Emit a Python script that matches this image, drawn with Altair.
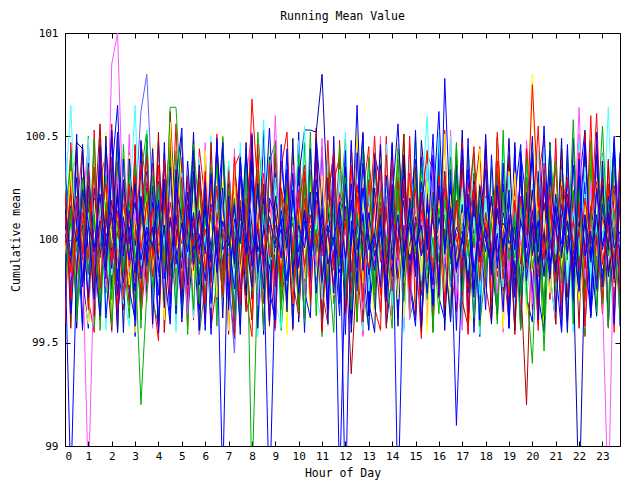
import altair as alt
import pandas as pd

HOURS = [h / 4 for h in range(96)]
X_TICKS = list(range(24))
Y_TICKS = [99, 99.5, 100, 100.5, 101]

S01 = [100.12, 99.84, 100.21, 99.93, 100.35, 99.78, 100.05, 100.27, 99.88, 100.14, 99.71, 100.09,
       100.31, 99.95, 100.18, 99.82, 100.04, 100.39, 99.90, 100.22, 99.76, 100.11, 99.97, 100.28,
       99.85, 100.16, 100.02, 99.73, 100.33, 99.94, 100.19, 99.87, 100.68, 100.24, 99.92, 100.07,
       99.81, 100.25, 100.10, 99.69, 100.14, 100.36, 99.96, 100.03, 99.79, 100.20, 100.42, 99.91,
       100.08, 99.74, 100.26, 100.01, 99.86, 100.17, 100.34, 99.83, 100.12, 99.95, 100.29, 99.77,
       100.06, 100.23, 99.89, 100.15, 99.72, 100.32, 99.98, 100.19, 99.85, 100.04, 100.27, 99.80,
       100.13, 99.93, 100.38, 99.87, 100.09, 99.75, 100.21, 100.02, 100.75, 100.18, 99.90, 100.24,
       99.82, 100.11, 100.30, 99.96, 100.05, 99.70, 100.16, 100.28, 99.88, 100.07, 99.79, 100.20]
S02 = [99.88, 100.15, 99.67, 100.04, 100.22, 99.79, 99.95, 100.31, 99.58, 100.09, 99.83, 100.18,
       99.92, 99.20, 99.74, 100.06, 100.27, 99.86, 100.64, 100.64, 100.12, 99.81, 100.03, 99.69,
       100.21, 99.90, 100.37, 99.77, 100.08, 99.63, 100.14, 100.29, 98.80, 99.85, 100.17, 99.96,
       100.02, 99.72, 100.25, 99.89, 100.11, 99.60, 100.33, 99.94, 100.07, 99.78, 100.19, 99.87,
       100.28, 99.66, 100.05, 99.91, 100.40, 99.76, 100.13, 99.84, 99.98, 100.24, 99.70, 100.10,
       99.93, 100.35, 99.81, 100.01, 99.64, 100.20, 99.88, 100.46, 99.75, 100.15, 99.97, 100.26,
       99.82, 100.08, 99.59, 100.23, 99.90, 100.12, 99.73, 100.30, 99.86, 100.04, 99.68, 100.17,
       100.38, 99.79, 100.09, 99.95, 100.27, 99.71, 100.14, 99.83, 100.21, 99.92, 100.06, 99.62]
S03 = [99.93, 98.80, 99.86, 100.24, 100.08, 99.71, 100.36, 99.97, 100.13, 99.80, 100.29, 100.02,
       99.75, 100.18, 99.91, 100.44, 99.84, 100.07, 99.62, 100.25, 100.10, 99.78, 100.33, 99.95,
       100.16, 99.69, 100.04, 98.80, 100.21, 99.88, 100.39, 100.01, 99.77, 100.27, 99.92, 98.70,
       99.83, 100.14, 99.96, 100.32, 99.74, 100.09, 99.87, 100.23, 100.05, 99.66, 100.30, 98.80,
       99.90, 100.19, 99.79, 100.37, 100.00, 99.85, 100.12, 99.70, 100.26, 98.70, 99.94, 100.15,
       99.82, 100.28, 99.98, 100.41, 99.73, 100.78, 100.06, 99.10, 99.89, 100.22, 99.76, 100.11,
       100.34, 99.87, 100.03, 99.65, 100.20, 99.95, 100.31, 99.80, 100.08, 99.72, 100.25, 100.01,
       99.84, 100.17, 99.93, 100.36, 99.78, 100.10, 99.67, 100.24, 99.97, 100.13, 99.81, 100.29]
S04 = [100.05, 99.82, 100.19, 99.94, 98.80, 99.88, 100.12, 99.77, 100.85, 101.00, 100.08, 99.85,
       100.23, 99.96, 99.70, 100.14, 100.02, 99.81, 100.30, 99.90, 100.07, 99.64, 100.18, 99.99,
       99.86, 100.27, 99.75, 100.10, 99.93, 100.35, 99.80, 100.04, 100.21, 99.68, 100.15, 99.91,
       100.60, 99.84, 100.11, 99.97, 100.26, 99.73, 100.09, 99.89, 100.32, 99.78, 100.01, 100.17,
       99.83, 100.24, 99.95, 99.66, 100.13, 99.92, 100.29, 99.79, 100.06, 99.87, 100.20, 99.61,
       100.16, 99.94, 100.37, 99.76, 100.03, 99.88, 100.22, 99.70, 100.12, 99.98, 99.82, 100.27,
       99.91, 100.09, 99.74, 100.19, 99.85, 100.33, 99.97, 100.05, 99.69, 100.14, 99.90, 100.25,
       100.02, 99.78, 100.18, 99.93, 100.64, 99.81, 100.10, 99.96, 99.72, 98.70, 100.08, 99.87]
S05 = [100.20, 100.65, 99.90, 100.08, 99.76, 100.17, 99.95, 100.28, 99.83, 100.04, 99.69, 100.13,
       100.65, 99.87, 100.11, 99.79, 100.24, 99.97, 100.06, 99.72, 100.32, 99.91, 100.15, 99.84,
       100.02, 99.67, 100.21, 99.93, 100.38, 99.81, 100.09, 99.96, 100.26, 99.74, 100.12, 99.88,
       100.30, 99.99, 99.78, 100.16, 99.92, 100.55, 99.86, 100.07, 99.71, 100.19, 99.95, 100.34,
       99.82, 100.10, 99.98, 100.23, 99.75, 100.05, 99.89, 100.29, 99.68, 100.14, 99.94, 100.03,
       100.18, 99.80, 100.36, 99.91, 100.52, 99.77, 100.08, 99.97, 100.25, 99.85, 100.11, 99.73,
       100.20, 99.96, 100.05, 99.83, 100.31, 99.90, 100.15, 99.70, 100.09, 100.43, 99.87, 100.02,
       99.93, 100.24, 99.79, 100.13, 99.98, 100.35, 99.84, 100.07, 99.75, 100.19, 99.91, 100.28]
S06 = [99.95, 100.33, 99.81, 100.07, 99.92, 100.19, 99.74, 100.26, 100.01, 99.86, 100.14, 99.78,
       100.09, 99.97, 100.22, 99.85, 100.04, 99.63, 100.30, 99.93, 100.12, 99.80, 100.18, 99.99,
       99.87, 100.25, 99.72, 100.11, 99.96, 100.36, 99.84, 100.05, 99.91, 100.20, 99.76, 100.13,
       100.00, 99.88, 100.27, 99.69, 100.15, 99.94, 100.08, 99.82, 100.31, 99.98, 99.73, 100.17,
       100.06, 99.90, 100.23, 99.79, 100.10, 99.95, 100.34, 99.86, 100.02, 99.71, 100.19, 99.93,
       100.12, 99.83, 100.28, 99.97, 100.04, 99.75, 100.21, 99.89, 100.13, 99.99, 99.78, 100.25,
       99.91, 100.16, 99.85, 100.07, 99.96, 100.32, 99.80, 100.01, 100.80, 99.92, 100.14, 99.74,
       100.23, 99.88, 100.09, 99.97, 99.70, 100.18, 99.94, 100.29, 99.86, 100.05, 99.77, 100.11]
S07 = [99.80, 100.14, 99.97, 100.25, 99.71, 100.08, 100.56, 99.89, 100.19, 99.93, 100.03, 99.76,
       100.28, 99.85, 100.10, 99.95, 100.22, 99.82, 100.62, 100.06, 99.74, 100.17, 99.91, 100.34,
       100.02, 99.79, 100.13, 99.88, 100.24, 99.96, 99.68, 100.11, 100.44, 99.84, 100.07, 99.92,
       100.20, 99.77, 100.05, 99.90, 100.31, 99.83, 100.12, 99.98, 99.72, 100.18, 99.86, 100.09,
       99.94, 99.35, 99.87, 100.21, 100.00, 99.78, 100.15, 99.91, 100.27, 99.81, 100.06, 99.97,
       100.16, 99.73, 100.10, 99.89, 100.23, 99.95, 100.04, 99.84, 100.35, 99.92, 99.76, 100.13,
       99.99, 100.20, 99.82, 100.08, 99.93, 100.26, 99.79, 99.20, 100.11, 99.87, 100.18, 99.96,
       100.05, 99.83, 100.22, 99.90, 100.09, 99.75, 100.14, 99.98, 100.30, 99.85, 100.02, 99.93]
S08 = [100.09, 99.88, 100.47, 100.44, 99.92, 100.16, 99.79, 100.03, 99.95, 100.24, 99.83, 100.11,
       99.97, 100.20, 99.74, 100.06, 99.90, 100.29, 99.85, 100.02, 100.15, 99.78, 100.08, 99.93,
       100.18, 99.96, 100.05, 99.81, 100.27, 99.89, 100.12, 99.73, 100.38, 99.94, 100.07, 99.86,
       100.21, 99.99, 100.10, 99.84, 100.30, 100.53, 100.53, 100.52, 100.80, 100.14, 99.91, 100.06,
       99.87, 100.19, 99.95, 100.04, 99.76, 100.25, 99.92, 100.13, 99.82, 100.01, 100.36, 99.90,
       100.08, 99.97, 100.22, 99.80, 100.11, 99.94, 100.03, 99.86, 100.17, 99.77, 100.28, 99.99,
       100.06, 99.89, 100.14, 99.95, 100.49, 99.83, 100.10, 99.96, 100.24, 99.88, 100.00, 99.79,
       100.19, 99.93, 100.07, 99.85, 98.70, 99.90, 100.16, 99.97, 100.26, 99.82, 100.05, 99.94]
S09 = [99.91, 100.17, 99.85, 100.04, 100.22, 99.76, 100.10, 99.94, 100.31, 99.87, 100.06, 99.98,
       100.14, 100.62, 100.80, 100.19, 99.82, 100.07, 99.93, 100.25, 99.80, 100.12, 99.96, 100.03,
       99.89, 100.18, 99.97, 100.08, 99.84, 99.45, 100.11, 99.92, 100.26, 99.78, 100.05, 99.95,
       100.15, 99.86, 100.23, 99.99, 100.02, 99.81, 100.19, 99.90, 100.09, 99.74, 100.28, 99.96,
       100.04, 99.88, 100.13, 99.97, 100.20, 99.83, 100.07, 99.93, 100.16, 99.79, 100.01, 100.24,
       99.90, 100.10, 99.85, 100.30, 99.95, 100.05, 99.77, 100.18, 99.92, 100.12, 99.86, 100.03,
       100.21, 99.94, 100.08, 99.82, 100.14, 99.99, 100.27, 99.87, 100.04, 99.96, 100.17, 99.80,
       100.09, 99.91, 100.22, 99.97, 100.02, 99.84, 100.13, 99.89, 100.25, 99.93, 100.06, 99.78]
S10 = [100.24, 99.71, 100.06, 99.90, 100.19, 99.82, 100.33, 99.95, 100.11, 99.66, 100.28, 99.87,
       100.02, 100.37, 99.79, 100.15, 99.93, 100.21, 99.74, 100.09, 99.98, 100.30, 99.85, 100.13,
       99.69, 100.26, 99.92, 100.05, 99.80, 100.40, 99.88, 100.17, 99.76, 100.08, 100.32, 99.91,
       100.12, 99.83, 100.27, 99.97, 99.72, 100.20, 99.89, 100.35, 99.94, 100.03, 99.78, 100.22,
       100.14, 99.86, 100.01, 99.70, 100.29, 99.96, 100.18, 99.81, 100.38, 99.90, 100.07, 99.75,
       100.25, 99.93, 100.10, 99.84, 100.31, 99.68, 100.16, 99.99, 100.04, 99.77, 100.23, 99.91,
       100.36, 99.85, 100.12, 99.97, 99.73, 100.19, 99.88, 100.27, 100.02, 99.82, 100.34, 99.95,
       100.08, 99.69, 100.21, 99.93, 100.15, 99.86, 100.60, 99.80, 100.11, 99.98, 100.26, 99.74]
S11 = [99.78, 100.09, 99.94, 100.26, 99.83, 100.12, 99.70, 100.18, 99.96, 100.04, 99.87, 100.32,
       99.91, 100.07, 100.23, 99.76, 100.14, 99.89, 100.01, 99.68, 100.20, 99.95, 100.29, 99.82,
       100.10, 99.93, 100.03, 99.72, 100.25, 99.86, 100.16, 99.98, 99.77, 100.34, 99.90, 100.06,
       99.84, 100.21, 99.95, 100.11, 99.65, 100.28, 99.92, 100.05, 99.81, 100.17, 99.97, 100.09,
       100.30, 99.79, 100.13, 99.88, 100.02, 99.74, 100.24, 99.93, 100.08, 100.39, 99.85, 100.15,
       99.96, 100.06, 99.71, 100.22, 99.89, 100.12, 99.80, 100.27, 99.94, 100.00, 99.62, 100.19,
       99.87, 100.11, 100.33, 99.83, 100.04, 99.91, 100.20, 99.77, 99.40, 100.14, 99.97, 100.08,
       99.75, 100.23, 99.90, 100.58, 99.84, 100.12, 99.95, 100.03, 99.69, 100.17, 99.88, 100.30]
S12 = [100.15, 99.92, 100.30, 99.79, 100.07, 99.96, 100.22, 99.85, 100.53, 99.73, 100.11, 99.90,
       100.27, 99.81, 100.04, 99.97, 100.19, 99.67, 100.35, 99.88, 100.08, 99.94, 100.13, 99.78,
       100.21, 99.89, 100.47, 99.95, 100.02, 99.76, 100.16, 99.93, 100.29, 99.84, 100.05, 100.54,
       99.98, 100.10, 99.71, 100.24, 99.87, 100.14, 99.92, 100.45, 99.80, 100.06, 99.99, 100.18,
       98.70, 100.09, 99.86, 100.25, 99.95, 100.03, 99.77, 100.31, 99.90, 100.12, 99.82, 100.20,
       99.97, 100.07, 99.74, 100.16, 100.62, 99.93, 100.28, 99.85, 100.01, 99.79, 100.19, 99.91,
       100.05, 99.83, 100.26, 99.96, 100.10, 99.72, 100.37, 99.89, 100.14, 99.94, 100.55, 99.86,
       100.22, 99.98, 100.09, 99.80, 100.31, 99.92, 100.04, 99.76, 100.17, 99.95, 100.50, 99.87]
S13 = [99.86, 100.27, 99.95, 100.13, 99.68, 100.20, 99.91, 100.06, 100.56, 99.82, 100.17, 99.98,
       100.09, 99.75, 100.24, 99.90, 100.36, 99.84, 100.03, 99.97, 100.18, 99.79, 100.11, 99.93,
       100.30, 99.87, 100.06, 99.72, 100.22, 99.94, 100.12, 99.83, 100.01, 100.41, 99.89, 100.15,
       99.77, 100.25, 99.96, 100.08, 99.86, 100.33, 99.70, 100.19, 99.92, 100.48, 99.85, 100.04,
       100.16, 99.93, 100.26, 99.80, 100.11, 99.97, 99.65, 100.21, 99.88, 100.07, 99.95, 100.32,
       99.84, 100.14, 99.99, 100.23, 99.78, 100.05, 99.90, 100.17, 99.73, 100.28, 99.96, 100.10,
       99.81, 100.20, 99.94, 100.06, 99.87, 100.30, 99.75, 100.12, 99.92, 100.25, 99.83, 100.09,
       100.35, 99.90, 100.02, 99.78, 100.18, 99.96, 100.07, 100.61, 99.85, 100.13, 99.71, 100.22]
S14 = [100.03, 99.89, 100.18, 99.77, 100.26, 99.94, 100.09, 99.81, 100.32, 100.65, 99.92, 100.14,
       99.84, 100.21, 99.97, 100.06, 99.73, 100.29, 99.90, 100.12, 99.86, 100.38, 99.95, 100.02,
       99.80, 100.17, 99.93, 100.25, 99.69, 100.10, 99.98, 100.44, 99.87, 100.05, 99.76, 100.20,
       100.11, 99.91, 100.34, 99.83, 100.07, 99.96, 100.23, 99.74, 100.15, 99.88, 100.01, 99.63,
       100.27, 99.97, 100.65, 99.85, 100.13, 99.92, 100.04, 99.79, 100.19, 100.56, 99.94, 100.08,
       99.87, 100.22, 99.95, 100.11, 99.80, 100.33, 99.91, 100.06, 99.98, 100.17, 99.72, 100.26,
       100.00, 99.86, 100.15, 99.93, 100.24, 99.78, 100.09, 99.97, 100.42, 99.89, 100.03, 99.81,
       100.16, 99.94, 100.28, 99.84, 100.05, 100.47, 99.91, 100.12, 99.77, 100.21, 99.96, 100.04]
S15 = [100.17, 99.85, 100.02, 99.96, 100.28, 99.74, 100.11, 99.90, 100.06, 99.80, 100.23, 99.93,
       99.71, 100.14, 99.88, 100.31, 99.97, 100.05, 99.82, 100.19, 99.91, 100.08, 99.66, 100.26,
       99.95, 100.12, 99.79, 100.03, 99.92, 100.20, 99.86, 100.35, 99.98, 99.73, 100.16, 99.89,
       100.07, 99.94, 100.29, 99.78, 100.10, 99.87, 100.04, 99.99, 100.25, 99.82, 100.13, 99.95,
       99.76, 100.22, 99.91, 100.09, 99.84, 100.36, 99.96, 100.01, 99.69, 100.18, 99.88, 100.11,
       100.27, 99.93, 100.05, 99.81, 100.15, 99.97, 100.40, 99.85, 100.08, 99.92, 100.21, 99.78,
       100.13, 99.95, 99.67, 100.19, 99.89, 100.04, 99.83, 100.30, 99.94, 100.10, 99.46, 100.16,
       99.90, 100.07, 99.98, 100.24, 99.79, 100.11, 99.87, 100.02, 100.55, 99.93, 100.14, 99.82]
S16 = [99.93, 100.10, 99.79, 100.24, 99.88, 100.05, 99.97, 100.16, 99.83, 100.31, 99.90, 100.02,
       100.12, 99.86, 100.20, 99.95, 100.07, 99.74, 100.27, 99.91, 100.14, 99.84, 100.03, 99.98,
       100.21, 99.89, 100.09, 99.77, 100.18, 99.94, 100.04, 100.29, 99.85, 100.13, 99.96, 100.06,
       99.81, 100.19, 99.92, 100.36, 99.87, 100.01, 99.75, 100.15, 99.97, 100.08, 99.89, 100.23,
       100.03, 99.94, 100.17, 99.82, 100.26, 99.90, 100.06, 99.98, 100.11, 99.78, 100.20, 99.93,
       100.09, 99.85, 100.22, 99.96, 100.04, 99.72, 100.14, 99.88, 100.30, 99.91, 100.07, 99.97,
       99.86, 100.16, 99.93, 100.05, 99.80, 100.25, 99.95, 100.12, 99.84, 100.19, 99.90, 100.02,
       100.13, 99.76, 100.21, 99.97, 100.08, 99.87, 100.27, 99.94, 100.04, 99.83, 100.15, 99.99]
S17 = [100.04, 99.87, 100.21, 99.95, 100.13, 99.78, 100.29, 99.91, 100.08, 99.97, 100.18, 99.84,
       99.96, 100.25, 99.82, 100.10, 99.93, 100.02, 100.33, 99.86, 100.06, 99.75, 100.19, 99.90,
       100.11, 99.98, 99.80, 100.23, 99.92, 100.07, 99.85, 100.16, 99.99, 100.03, 100.58, 99.89,
       99.94, 100.12, 99.79, 100.26, 99.96, 100.09, 99.88, 100.20, 99.83, 100.05, 100.30, 99.92,
       100.14, 99.87, 100.01, 99.97, 100.22, 99.81, 100.10, 99.93, 100.28, 99.86, 100.04, 99.98,
       99.90, 100.17, 100.60, 99.84, 100.12, 99.95, 100.07, 99.79, 100.24, 99.91, 100.03, 99.96,
       100.20, 99.88, 100.09, 99.77, 100.15, 99.94, 100.02, 99.85, 100.27, 99.97, 100.11, 99.89,
       99.95, 100.18, 99.83, 100.06, 99.92, 100.22, 99.80, 100.10, 99.98, 100.64, 99.86, 100.13]
S18 = [99.97, 100.22, 99.83, 100.09, 99.91, 100.35, 99.76, 100.14, 99.88, 100.03, 99.95, 100.27,
       99.80, 100.11, 100.40, 99.92, 100.06, 99.85, 100.18, 99.97, 100.30, 99.73, 100.12, 99.89,
       100.05, 99.94, 100.26, 99.82, 100.15, 99.99, 99.70, 100.20, 99.90, 100.08, 99.86, 100.37,
       100.02, 99.78, 100.17, 99.93, 100.24, 99.87, 100.07, 99.96, 100.13, 99.79, 100.33, 99.91,
       100.10, 99.84, 100.21, 99.95, 100.04, 100.50, 99.89, 100.16, 99.75, 100.28, 99.93, 100.06,
       99.87, 100.19, 99.98, 100.10, 99.77, 100.25, 99.92, 100.03, 99.83, 100.14, 100.45, 99.90,
       100.08, 99.95, 100.22, 99.81, 100.12, 99.97, 100.31, 99.86, 100.05, 100.55, 99.91, 100.17,
       99.79, 100.26, 99.94, 100.09, 99.85, 100.20, 99.98, 100.02, 99.72, 100.14, 99.89, 100.35]
S19 = [99.85, 100.16, 99.99, 100.07, 99.72, 100.25, 99.93, 100.12, 99.86, 100.20, 99.79, 100.04,
       100.18, 99.90, 100.06, 99.95, 100.28, 99.81, 100.10, 99.96, 99.69, 100.23, 99.88, 100.14,
       99.93, 100.32, 99.84, 100.09, 99.97, 100.17, 99.76, 100.03, 99.91, 100.24, 99.87, 100.11,
       99.96, 100.05, 99.80, 100.21, 99.94, 100.14, 99.85, 100.29, 99.98, 100.07, 99.74, 100.16,
       99.90, 100.27, 99.95, 100.12, 99.83, 100.02, 100.36, 99.88, 100.09, 99.97, 100.19, 99.81,
       100.11, 99.92, 100.04, 99.78, 100.26, 99.96, 100.15, 99.87, 100.00, 100.34, 99.84, 100.10,
       99.94, 100.21, 99.86, 100.13, 99.98, 100.06, 99.79, 100.23, 99.93, 100.09, 99.82, 100.30,
       100.05, 99.91, 100.18, 99.97, 99.75, 100.12, 99.89, 100.25, 99.95, 100.08, 99.83, 100.16]
S20 = [100.10, 99.94, 100.25, 99.86, 100.05, 99.98, 100.19, 99.80, 100.13, 99.91, 100.30, 99.88,
       100.02, 99.77, 100.16, 99.95, 100.08, 99.84, 100.57, 99.92, 100.11, 99.97, 99.82, 100.20,
       99.90, 100.06, 99.99, 100.27, 99.85, 100.12, 99.93, 100.04, 99.78, 100.18, 99.96, 100.09,
       100.22, 99.87, 100.03, 99.95, 100.14, 99.81, 100.26, 99.92, 100.07, 99.98, 100.17, 99.86,
       99.94, 100.11, 99.83, 100.20, 99.97, 100.06, 99.89, 100.15, 99.93, 100.02, 99.79, 100.24,
       100.08, 99.96, 100.13, 99.85, 100.19, 99.91, 100.04, 99.98, 100.23, 99.88, 100.10, 99.82,
       99.97, 100.14, 99.90, 100.03, 99.86, 100.21, 99.95, 100.07, 99.84, 100.16, 99.93, 100.28,
       100.01, 99.89, 100.12, 99.96, 100.06, 99.80, 100.18, 99.92, 100.09, 99.97, 100.25, 99.87]

T01 = [100.38, 99.62, 100.12, 100.45, 99.71, 99.55, 100.29, 100.41, 99.83, 100.52, 99.66, 100.06,
       99.58, 100.47, 100.25, 99.74, 99.51, 100.39, 99.93, 100.56, 99.69, 100.31, 99.61, 100.44,
       100.18, 99.57, 99.80, 100.49, 99.64, 100.35, 100.42, 99.72, 99.53, 100.30, 100.05, 99.60,
       100.48, 99.79, 100.23, 99.56, 100.43, 100.10, 99.68, 100.51, 99.75, 99.59, 100.28, 100.40,
       99.65, 100.46, 99.88, 99.54, 100.37, 100.15, 99.73, 100.50, 99.63, 100.26, 99.58, 100.44,
       99.97, 99.52, 100.41, 100.34, 99.76, 100.53, 99.62, 99.90, 100.38, 99.55, 100.20, 100.45,
       99.78, 99.60, 100.47, 100.02, 99.71, 100.33, 99.57, 100.42, 99.66, 100.30, 100.49, 99.84,
       99.59, 100.36, 100.11, 99.69, 100.27, 99.53, 100.43, 99.95, 99.74, 100.39, 99.61, 100.32]
T02 = [99.61, 100.27, 100.44, 99.82, 99.57, 100.36, 99.70, 100.08, 100.50, 99.64, 99.91, 100.42,
       99.53, 100.19, 100.33, 99.68, 100.47, 99.85, 99.59, 100.29, 100.54, 99.73, 100.02, 99.55,
       100.40, 99.66, 100.14, 100.46, 99.78, 99.52, 100.31, 99.96, 100.43, 99.62, 100.25, 99.87,
       99.56, 100.38, 100.09, 99.71, 100.52, 99.60, 100.21, 99.80, 100.45, 99.67, 99.99, 100.35,
       99.54, 100.48, 99.75, 100.13, 99.63, 100.41, 100.28, 99.58, 99.84, 100.46, 99.69, 100.17,
       100.39, 99.57, 100.04, 100.51, 99.72, 99.61, 100.34, 99.89, 100.44, 99.65, 100.23, 99.53,
       100.37, 99.81, 100.49, 99.68, 100.07, 99.56, 100.42, 100.18, 99.74, 100.30, 99.60, 100.47,
       99.86, 99.55, 100.40, 99.70, 100.26, 100.53, 99.63, 99.94, 100.35, 99.58, 100.45, 99.77]
T03 = [100.08, 100.41, 99.63, 99.88, 100.50, 99.57, 100.22, 99.74, 100.37, 99.55, 100.46, 99.92,
       99.66, 100.31, 100.53, 99.70, 99.59, 100.24, 99.83, 100.43, 99.62, 100.10, 100.48, 99.54,
       99.78, 100.35, 99.67, 100.45, 100.03, 99.58, 100.39, 99.86, 99.61, 100.52, 100.16, 99.72,
       100.44, 99.56, 99.95, 100.30, 99.64, 100.47, 99.81, 100.20, 99.53, 100.38, 99.69, 100.11,
       100.49, 99.60, 100.27, 99.76, 99.57, 100.42, 100.06, 99.65, 100.34, 99.90, 100.51, 99.62,
       99.73, 100.40, 100.19, 99.55, 100.46, 99.84, 99.68, 100.32, 99.59, 100.44, 100.01, 99.71,
       100.36, 99.63, 100.50, 99.79, 100.13, 99.56, 100.43, 99.67, 100.25, 99.98, 99.58, 100.47,
       99.75, 100.29, 99.61, 100.41, 100.09, 99.54, 100.38, 99.82, 100.21, 99.66, 100.48, 99.72]
T04 = [99.72, 100.35, 99.58, 100.18, 100.46, 99.65, 99.93, 100.40, 99.55, 100.28, 99.81, 100.51,
       99.63, 100.05, 100.43, 99.57, 100.33, 99.76, 100.48, 99.60, 100.15, 99.88, 100.39, 99.54,
       100.47, 99.69, 100.24, 99.97, 99.59, 100.44, 99.74, 100.30, 100.52, 99.62, 99.85, 100.37,
       99.56, 100.21, 99.70, 100.45, 100.07, 99.61, 100.34, 99.80, 100.49, 99.58, 100.12, 99.94,
       100.42, 99.66, 100.27, 99.53, 100.38, 99.87, 100.50, 99.64, 99.99, 100.31, 99.57, 100.46,
       99.73, 100.22, 99.60, 100.41, 100.04, 99.68, 100.53, 99.82, 99.56, 100.36, 100.17, 99.63,
       100.44, 99.77, 100.29, 99.55, 100.40, 99.91, 99.67, 100.48, 100.10, 99.59, 100.33, 99.71,
       100.45, 99.62, 100.19, 99.86, 100.51, 99.57, 100.26, 99.75, 100.42, 99.64, 100.08, 100.37]
T05 = [100.44, 99.60, 100.07, 99.83, 100.49, 99.67, 100.32, 99.56, 100.21, 100.42, 99.74, 99.58,
       100.36, 99.89, 100.53, 99.63, 100.16, 99.71, 100.45, 99.55, 100.28, 99.96, 99.62, 100.40,
       99.77, 100.50, 99.59, 100.24, 100.04, 99.66, 100.47, 99.80, 100.33, 99.53, 100.11, 100.43,
       99.70, 99.57, 100.38, 99.92, 100.48, 99.64, 100.26, 99.75, 99.58, 100.41, 100.13, 99.68,
       100.52, 99.81, 100.19, 99.56, 100.35, 99.98, 99.61, 100.46, 99.73, 100.30, 99.55, 100.39,
       100.09, 99.65, 100.44, 99.86, 100.23, 99.59, 100.50, 99.69, 100.14, 99.78, 100.42, 99.54,
       100.31, 99.94, 99.63, 100.47, 99.72, 100.20, 99.57, 100.37, 100.02, 99.67, 100.45, 99.84,
       99.60, 100.34, 100.17, 99.55, 100.48, 99.76, 100.25, 99.62, 100.40, 99.90, 99.58, 100.43]
T06 = [99.66, 100.22, 100.48, 99.75, 99.59, 100.37, 99.94, 100.52, 99.62, 100.14, 99.80, 100.41,
       99.55, 100.29, 99.70, 100.46, 100.06, 99.61, 100.35, 99.86, 100.50, 99.57, 100.18, 99.73,
       100.43, 99.64, 100.01, 100.39, 99.56, 100.26, 99.82, 100.47, 99.68, 100.12, 99.59, 100.44,
       99.91, 100.32, 99.54, 100.49, 99.77, 100.20, 99.63, 100.38, 100.09, 99.58, 100.45, 99.71,
       100.27, 99.60, 100.53, 99.85, 100.16, 99.56, 100.40, 99.74, 99.97, 100.47, 99.62, 100.31,
       99.69, 100.42, 99.55, 100.23, 99.88, 100.51, 99.61, 100.05, 100.36, 99.66, 99.58, 100.44,
       100.15, 99.72, 100.48, 99.57, 100.33, 99.83, 100.21, 99.64, 100.46, 99.93, 99.59, 100.39,
       99.76, 100.28, 99.54, 100.43, 100.03, 99.67, 100.50, 99.81, 100.19, 99.60, 100.35, 99.87]
T07 = [100.31, 99.57, 100.43, 99.79, 100.16, 99.63, 100.49, 99.90, 99.56, 100.38, 100.05, 99.68,
       100.46, 99.61, 100.25, 99.84, 100.52, 99.55, 100.11, 99.74, 100.40, 99.66, 100.33, 99.97,
       99.59, 100.47, 99.71, 100.21, 99.54, 100.36, 100.08, 99.65, 100.50, 99.82, 100.27, 99.58,
       100.42, 99.69, 99.93, 100.45, 99.62, 100.17, 99.77, 100.54, 99.56, 100.30, 99.87, 100.39,
       99.64, 100.02, 100.48, 99.60, 100.24, 99.73, 100.43, 99.57, 100.13, 99.95, 100.51, 99.67,
       100.35, 99.55, 100.20, 99.81, 100.46, 99.63, 100.07, 100.40, 99.70, 99.58, 100.32, 99.89,
       100.49, 99.61, 100.26, 99.75, 100.41, 99.54, 100.15, 99.85, 100.47, 99.66, 100.00, 100.37,
       99.59, 100.44, 99.72, 100.23, 99.57, 100.52, 99.92, 100.10, 99.64, 100.38, 99.78, 100.29]
T08 = [99.59, 100.47, 99.86, 100.20, 99.66, 100.53, 99.73, 100.09, 100.40, 99.57, 100.28, 99.82,
       100.45, 99.62, 99.95, 100.37, 99.55, 100.14, 100.49, 99.70, 100.24, 99.58, 100.42, 99.88,
       100.33, 99.64, 100.51, 99.76, 100.04, 99.53, 100.39, 99.91, 99.61, 100.46, 99.69, 100.18,
       99.57, 100.35, 100.52, 99.80, 99.63, 100.27, 99.96, 100.44, 99.55, 100.11, 99.72, 100.48,
       99.85, 100.36, 99.60, 100.22, 100.45, 99.67, 99.56, 100.41, 99.93, 100.30, 99.74, 100.50,
       99.62, 100.15, 100.43, 99.57, 100.34, 99.83, 100.06, 99.65, 100.47, 99.54, 100.25, 99.79,
       100.39, 99.68, 100.52, 99.90, 99.59, 100.31, 99.75, 100.44, 100.12, 99.56, 100.37, 99.71,
       100.49, 99.63, 100.21, 99.87, 100.42, 99.58, 100.03, 100.46, 99.66, 100.27, 99.55, 100.40]
T09 = [100.22, 99.73, 100.51, 99.58, 100.34, 99.92, 99.63, 100.45, 100.10, 99.55, 100.39, 99.76,
       99.61, 100.48, 99.85, 100.26, 99.57, 100.42, 99.69, 100.13, 100.50, 99.64, 99.98, 100.36,
       99.56, 100.29, 99.81, 100.47, 99.66, 100.19, 99.54, 100.41, 100.06, 99.71, 100.53, 99.60,
       100.32, 99.88, 100.44, 99.57, 100.23, 99.75, 99.62, 100.49, 100.15, 99.67, 100.38, 99.84,
       100.43, 99.59, 100.11, 100.52, 99.70, 99.55, 100.35, 99.95, 100.46, 99.63, 100.25, 99.78,
       99.58, 100.40, 100.00, 99.68, 100.48, 99.82, 100.30, 99.56, 100.44, 99.74, 100.17, 99.61,
       100.51, 99.89, 99.64, 100.37, 99.57, 100.21, 100.46, 99.72, 99.60, 100.33, 99.97, 100.43,
       99.65, 100.12, 99.55, 100.49, 99.86, 100.28, 99.62, 100.41, 99.79, 100.05, 100.47, 99.58]
T10 = [99.79, 100.42, 99.60, 100.30, 99.88, 100.49, 99.56, 100.17, 99.71, 100.44, 99.94, 99.62,
       100.36, 99.57, 100.51, 99.76, 100.08, 99.65, 100.40, 99.83, 100.27, 99.54, 100.46, 100.12,
       99.68, 100.33, 99.58, 100.50, 99.87, 100.04, 99.61, 100.43, 99.75, 100.24, 99.56, 100.38,
       100.47, 99.66, 100.15, 99.59, 100.41, 99.80, 100.52, 99.63, 100.29, 99.91, 99.55, 100.45,
       99.72, 100.21, 99.60, 100.48, 100.03, 99.67, 100.37, 99.84, 99.57, 100.44, 100.19, 99.64,
       100.50, 99.77, 100.26, 99.55, 100.39, 99.93, 99.62, 100.47, 99.70, 100.14, 100.42, 99.58,
       99.86, 100.35, 99.61, 100.53, 99.74, 100.09, 99.56, 100.40, 99.96, 100.28, 99.63, 100.46,
       100.07, 99.69, 100.43, 99.59, 100.31, 99.82, 100.48, 99.65, 100.18, 99.57, 100.38, 99.73]
T11 = [100.48, 99.64, 100.10, 99.56, 100.37, 99.81, 100.45, 99.62, 99.97, 100.52, 99.70, 100.24,
       99.58, 100.41, 99.87, 100.18, 99.55, 100.47, 99.73, 100.34, 99.60, 100.05, 100.43, 99.66,
       100.28, 99.54, 100.49, 99.79, 100.13, 99.63, 100.40, 99.92, 100.51, 99.57, 100.20, 99.75,
       99.61, 100.46, 100.01, 99.68, 100.35, 99.55, 100.44, 99.85, 100.26, 99.59, 100.50, 99.71,
       100.16, 99.64, 100.42, 99.90, 99.56, 100.38, 100.08, 99.73, 100.47, 99.62, 100.31, 99.82,
       100.53, 99.58, 100.22, 99.69, 100.44, 99.95, 99.60, 100.36, 99.77, 100.49, 99.55, 100.12,
       99.66, 100.41, 99.88, 100.27, 99.57, 100.45, 99.74, 100.04, 100.50, 99.61, 100.33, 99.80,
       100.19, 99.56, 100.46, 99.71, 100.39, 99.93, 99.63, 100.52, 99.78, 100.15, 99.59, 100.42]
T12 = [99.70, 100.33, 99.57, 100.46, 99.84, 100.14, 99.61, 100.50, 99.76, 100.27, 99.55, 100.39,
       100.02, 99.67, 100.48, 99.59, 100.21, 99.90, 100.43, 99.64, 100.31, 99.73, 100.52, 99.56,
       100.16, 99.82, 100.45, 99.62, 100.36, 99.97, 99.58, 100.47, 99.71, 100.24, 99.54, 100.40,
       99.86, 100.11, 99.65, 100.49, 99.60, 100.30, 99.78, 100.44, 99.57, 100.19, 100.42, 99.69,
       100.35, 99.55, 100.06, 100.51, 99.63, 99.92, 100.46, 99.72, 100.28, 99.58, 100.41, 99.81,
       99.61, 100.48, 100.15, 99.66, 100.37, 99.56, 100.25, 99.88, 100.53, 99.62, 100.09, 99.75,
       100.44, 99.59, 100.32, 99.94, 99.67, 100.47, 99.57, 100.20, 100.40, 99.73, 99.55, 100.34,
       99.83, 100.49, 99.60, 100.13, 99.70, 100.45, 99.96, 99.63, 100.38, 99.58, 100.26, 99.89]

RED, GREEN, BLUE = "#ff0000", "#00b000", "#0000ff"
MAGENTA, CYAN, YELLOW = "#ff50ff", "#40ffff", "#ffff00"
DARKRED, DARKBLUE, LIGHTBLUE = "#b00000", "#0000b0", "#6060ff"

# drawing order (first = back), each with its colour
SERIES = [
    ("t01", T01, RED), ("t03", T03, GREEN), ("t02", T02, BLUE), ("t04", T04, MAGENTA),
    ("t05", T05, CYAN), ("t07", T07, DARKRED), ("t06", T06, YELLOW), ("t12", T12, DARKBLUE),
    ("s09", S09, LIGHTBLUE), ("t08", T08, RED), ("t10", T10, GREEN), ("t09", T09, BLUE),
    ("s16", S16, MAGENTA), ("s17", S17, CYAN), ("s07", S07, DARKRED), ("s20", S20, YELLOW),
    ("s08", S08, DARKBLUE), ("s13", S13, RED), ("s15", S15, GREEN), ("t11", T11, BLUE),
    ("s04", S04, MAGENTA), ("s05", S05, CYAN), ("s06", S06, YELLOW), ("s10", S10, RED),
    ("s11", S11, GREEN), ("s19", S19, BLUE), ("s18", S18, RED), ("s02", S02, GREEN),
    ("s14", S14, BLUE), ("s01", S01, RED), ("s12", S12, BLUE), ("s03", S03, BLUE),
]

rows = []
for order, (name, vals, _c) in enumerate(SERIES):
    for h, v in zip(HOURS, vals):
        rows.append({"series": name, "hour": h, "value": v, "ord": order})
df = pd.DataFrame(rows)

FONT = "DejaVu Sans Mono"
xscale = alt.Scale(domain=[0, 23.75], nice=False, zero=False)
yscale = alt.Scale(domain=[99, 101], nice=False, zero=False)
names = [s[0] for s in SERIES]
colors = [s[2] for s in SERIES]

lines = alt.Chart(df).mark_line(strokeWidth=1, clip=True).encode(
    x=alt.X("hour:Q", scale=xscale,
            axis=alt.Axis(orient="bottom", values=X_TICKS, format="d", title="Hour of Day",
                          offset=-5, tickSize=5, domain=False, grid=False,
                          labelPadding=4, titlePadding=6)),
    y=alt.Y("value:Q", scale=yscale,
            axis=alt.Axis(orient="left", values=Y_TICKS, format="~g", title="Cumulative mean",
                          offset=-5, tickSize=5, domain=False, grid=False,
                          labelPadding=7, titlePadding=3)),
    color=alt.Color("series:N", scale=alt.Scale(domain=names, range=colors), legend=None),
    order=alt.Order("ord:Q"),
    detail="ord:O",
)

mirror = alt.Chart(pd.DataFrame({"hour": [0.0], "value": [100.0]})).mark_point(opacity=0).encode(
    x=alt.X("hour:Q", scale=xscale,
            axis=alt.Axis(orient="top", values=X_TICKS, labels=False, title=None,
                          offset=-5, tickSize=5, domain=False, grid=False)),
    y=alt.Y("value:Q", scale=yscale,
            axis=alt.Axis(orient="right", values=Y_TICKS, labels=False, title=None,
                          offset=-5, tickSize=5, domain=False, grid=False)),
)

chart = alt.layer(lines, mirror).resolve_axis(x="independent", y="independent").properties(
    width=555, height=413,
    title=alt.TitleParams("Running Mean Value", font=FONT, fontSize=11.5, fontWeight="normal",
                          color="black", offset=5),
    autosize=alt.AutoSizeParams(type="none"),
    padding={"left": 57, "top": 25, "right": 12, "bottom": 34},
).configure_view(stroke="black", strokeWidth=1).configure_axis(
    labelFont=FONT, labelFontSize=11, labelColor="black",
    titleFont=FONT, titleFontSize=11.5, titleFontWeight="normal", titleColor="black",
    tickColor="black", tickWidth=1,
)

chart.save("out.html", embed_options={"renderer": "svg", "actions": False})
